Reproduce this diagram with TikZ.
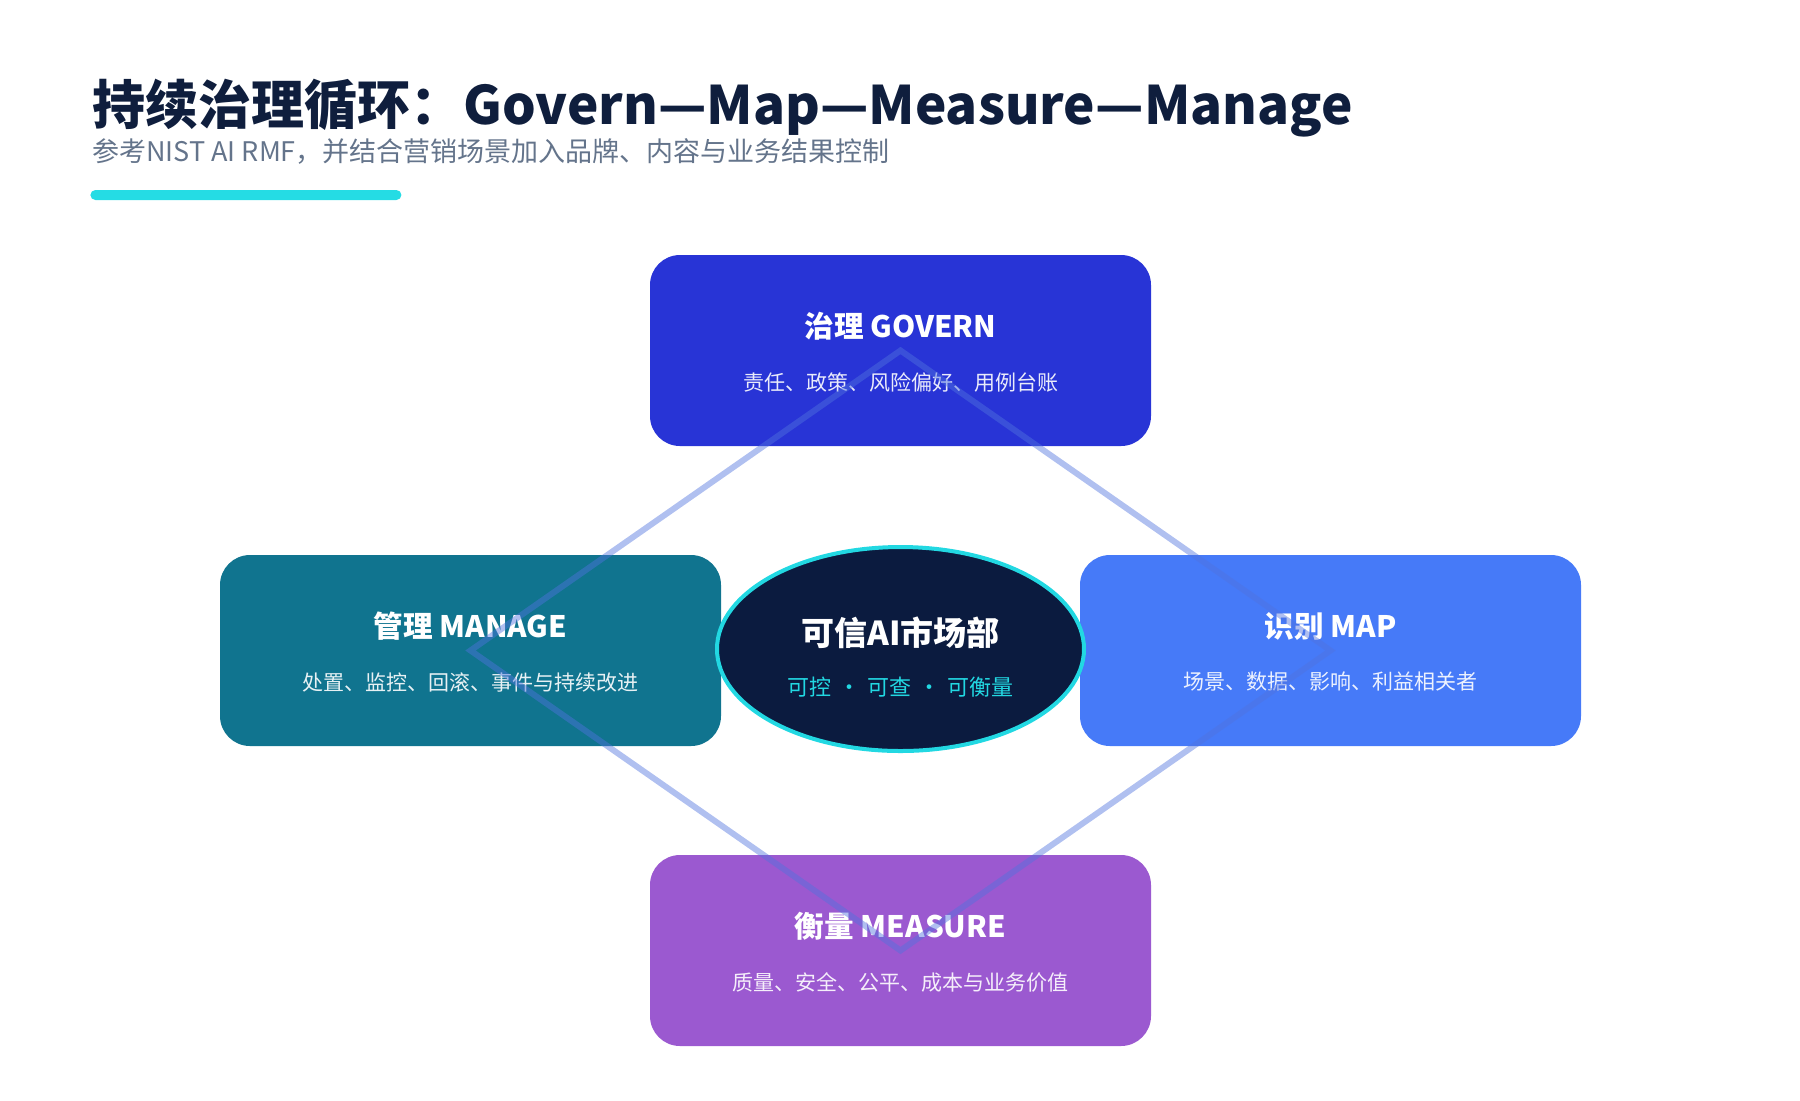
\documentclass[tikz,border=0pt]{standalone}
\usepackage{fontspec}
\setmainfont{Noto Sans CJK SC}
\usetikzlibrary{shapes.geometric}
\definecolor{titlec}{HTML}{0F1E3D}
\definecolor{subc}{HTML}{64748B}
\definecolor{barc}{HTML}{25DCE4}
\definecolor{govc}{HTML}{2834D6}
\definecolor{manc}{HTML}{10748F}
\definecolor{mapc}{HTML}{467AF8}
\definecolor{meac}{HTML}{9B59D0}
\definecolor{navyc}{HTML}{0B1B3F}
\definecolor{cyanc}{HTML}{22D8E2}
\definecolor{loopc}{HTML}{5073DE}
\begin{document}
\begin{tikzpicture}[x=0.5pt,y=-0.5pt,
  card/.style={rounded corners=15pt, minimum width=250.5pt, minimum height=95.5pt, inner sep=0pt},
  cardtitle/.style={text=white, inner sep=0pt, font=\bfseries\fontsize{14.8pt}{18pt}\selectfont},
  cardsub/.style={text=white, text opacity=0.9, inner sep=0pt, font=\fontsize{10.5pt}{13pt}\selectfont},
  loopline/.style={draw=loopc, draw opacity=0.45, line width=3pt, line join=miter}]
\useasboundingbox (0,0) rectangle (1800,1100);
% header
\node[anchor=base west, inner sep=0pt, text=titlec, font=\bfseries\fontsize{26.5pt}{32pt}\selectfont] (title) at (92,124) {持续治理循环：Govern—Map—Measure—Manage};
\node[anchor=base west, inner sep=0pt, text=subc, font=\fontsize{13.5pt}{16pt}\selectfont] (subtitle) at (92,161) {参考NIST AI RMF，并结合营销场景加入品牌、内容与业务结果控制};
\node[anchor=west, fill=barc, rounded corners=2.5pt, minimum width=155.5pt, minimum height=5pt, inner sep=0pt] (bar) at (90,195) {};
% cards
\node[card, fill=govc] (gov) at (900.5,350.5) {};
\node[card, fill=manc] (man) at (470.5,650.5) {};
\node[card, fill=mapc] (map) at (1330.5,650.5) {};
\node[card, fill=meac] (mea) at (900.5,950.5) {};
\node[cardtitle] (govt) at (900.5,326) {治理 GOVERN};
\node[cardsub] (govs) at (900.5,382) {责任、政策、风险偏好、用例台账};
\node[cardtitle] (mant) at (470.5,626) {管理 MANAGE};
\node[cardsub] (mans) at (470.5,682) {处置、监控、回滚、事件与持续改进};
\node[cardtitle] (mapt) at (1330.5,626) {识别 MAP};
\node[cardsub] (maps) at (1330.5,682) {场景、数据、影响、利益相关者};
\node[cardtitle] (meat) at (900.5,926) {衡量 MEASURE};
\node[cardsub] (meas) at (900.5,982) {质量、安全、公平、成本与业务价值};
% loop
\draw[loopline] (gov.center) -- (map.center) -- (mea.center) -- (man.center) -- cycle;
% core
\node[ellipse, draw=cyanc, line width=2pt, fill=navyc, minimum width=183.5pt, minimum height=102pt, inner sep=0pt] (core) at (900.5,649) {};
\node[text=white, inner sep=0pt, font=\bfseries\fontsize{16.5pt}{20pt}\selectfont] (coret) at (900.5,633) {可信AI市场部};
\node[text=cyanc, inner sep=0pt, font=\fontsize{11pt}{13pt}\selectfont] (cores) at (900.5,687) {可控\hspace{3.5pt}·\hspace{3.5pt}可查\hspace{3.5pt}·\hspace{3.5pt}可衡量};
\end{tikzpicture}
\end{document}
